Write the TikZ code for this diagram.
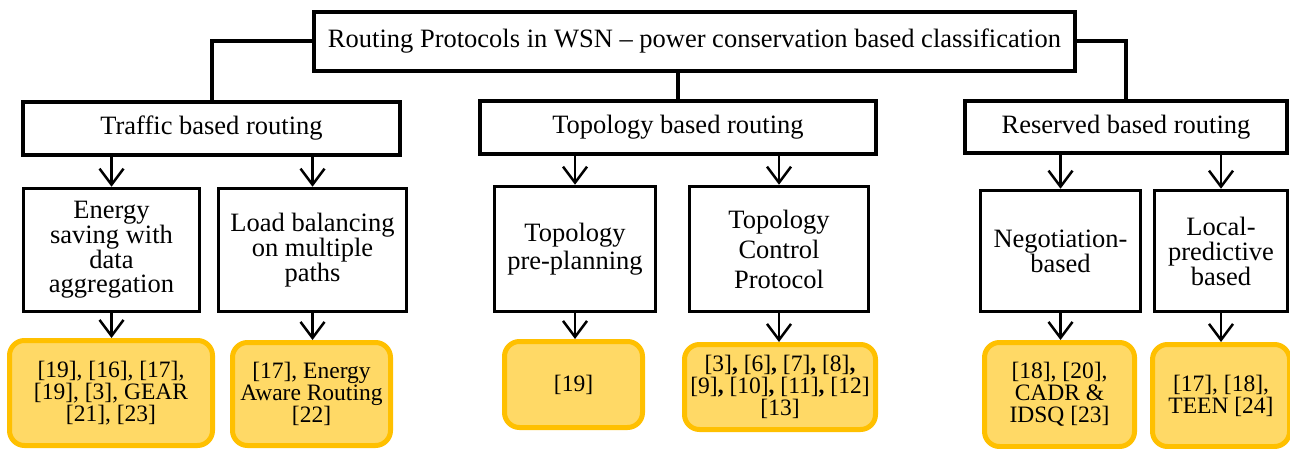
\documentclass[tikz,border=0pt]{standalone}
\usepackage{fontspec}
\setmainfont{Liberation Serif}
\usetikzlibrary{arrows.meta}
\definecolor{ylfill}{HTML}{FFD966}
\definecolor{ylborder}{HTML}{FFC000}
\tikzset{
  rootbox/.style={draw=black, line width=4.5pt, fill=white, inner sep=0pt, align=center,
    font=\fontsize{26.5}{28}\selectfont},
  catbox/.style={draw=black, line width=4pt, fill=white, inner sep=0pt, align=center,
    font=\fontsize{26.5}{28}\selectfont},
  subbox/.style={draw=black, line width=3.5pt, fill=white, inner sep=0pt, align=center},
  refbox/.style={draw=ylborder, fill=ylfill, line width=5pt, rounded corners=15pt,
    inner sep=0pt, align=center},
  link/.style={line width=4pt},
  arr/.style={line width=2.5pt, -{Straight Barb[length=16pt,width=24pt,line width=2.5pt]}},
}
\begin{document}
\begin{tikzpicture}[x=1pt,y=-1pt]
\useasboundingbox (0,0) rectangle (1290,449);
% root
\node[rootbox, minimum width=761pt, minimum height=59pt] (root) at (694.5,41.5)
  {Routing Protocols in WSN -- power conservation based classification};
% categories
\node[catbox, minimum width=377pt, minimum height=53pt] (traffic) at (211.5,128.5) {Traffic based routing};
\node[catbox, minimum width=396pt, minimum height=53pt] (topo) at (678,127.5) {Topology based routing};
\node[catbox, minimum width=322pt, minimum height=52pt] (reserved) at (1126,127) {Reserved based routing};
% sub boxes
\node[subbox, minimum width=176pt, minimum height=123pt, font=\fontsize{26.5}{24.7}\selectfont] (energy) at (111.5,250)
  {Energy\\saving with\\data\\aggregation};
\node[subbox, minimum width=188pt, minimum height=123pt, font=\fontsize{26.5}{25}\selectfont] (load) at (312.5,250)
  {Load balancing\\on multiple\\paths};
\node[subbox, minimum width=161pt, minimum height=125pt, font=\fontsize{26.5}{28}\selectfont] (pre) at (575,249)
  {Topology\\pre-planning};
\node[subbox, minimum width=179pt, minimum height=125pt, font=\fontsize{26.5}{30}\selectfont] (tcp) at (779,249)
  {Topology\\Control\\Protocol};
\node[subbox, minimum width=160pt, minimum height=121pt, font=\fontsize{26.5}{23.5}\selectfont] (neg) at (1060.5,251)
  {Negotiation-\\based};
\node[subbox, minimum width=133pt, minimum height=121pt, font=\fontsize{26.5}{25}\selectfont] (local) at (1221,251)
  {Local-\\predictive\\based};
% reference boxes
\tikzset{reffont/.style={font=\fontsize{23.5}{22}\selectfont}}
\node[refbox, reffont, minimum width=203pt, minimum height=105pt] (y1) at (111,393)
  {[19], [16], [17],\\{}[19], [3], GEAR\\{}[21], [23]};
\node[refbox, reffont, minimum width=158pt, minimum height=103pt] (y2) at (311.5,394)
  {[17], Energy\\Aware Routing\\{}[22]};
\node[refbox, reffont, minimum width=138pt, minimum height=86pt] (y3) at (573.5,384.5)
  {[19]};
\node[refbox, reffont, minimum width=191pt, minimum height=85pt] (y4) at (780,387)
  {[3]\textbf{,} [6]\textbf{,} [7]\textbf{,} [8]\textbf{,}\\{}[9]\textbf{,} [10]\textbf{,} [11]\textbf{,} [12]\\{}[13]};
\node[refbox, reffont, minimum width=150pt, minimum height=104pt] (y5) at (1059.5,394.5)
  {[18], [20],\\CADR \&\\IDSQ [23]};
\node[refbox, reffont, minimum width=137pt, minimum height=102pt] (y6) at (1221,395.5)
  {[17], [18],\\TEEN [24]};
% root connectors
\draw[link] (root.west) -| (traffic.north);
\draw[link] (root.south -| topo.north) -- (topo.north);
\draw[link] (root.east) -| (reserved.north);
% category -> sub arrows
\draw[arr] (traffic.south -| energy.north) -- (energy.north);
\draw[arr] (traffic.south -| load.north) -- (load.north);
\draw[arr] (topo.south -| pre.north) -- (pre.north);
\draw[arr] (topo.south -| tcp.north) -- (tcp.north);
\draw[arr] (reserved.south -| neg.north) -- (neg.north);
\draw[arr] (reserved.south -| local.north) -- (local.north);
% sub -> reference arrows
\draw[arr] (energy.south) -- (energy.south |- y1.north);
\draw[arr] (load.south) -- (load.south |- y2.north);
\draw[arr] (pre.south) -- (pre.south |- y3.north);
\draw[arr] (tcp.south) -- (tcp.south |- y4.north);
\draw[arr] (neg.south) -- (neg.south |- y5.north);
\draw[arr] (local.south) -- (local.south |- y6.north);
\end{tikzpicture}
\end{document}
